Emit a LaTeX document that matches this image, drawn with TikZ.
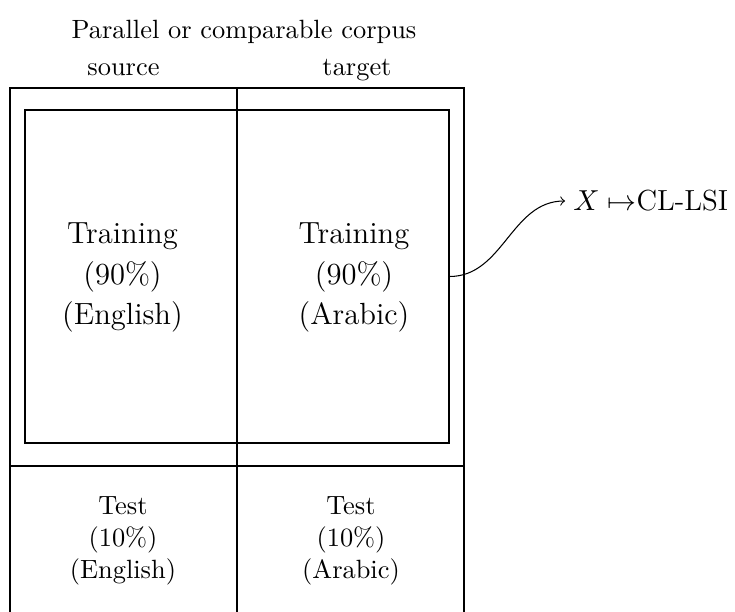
\documentclass[tikz,border=0pt]{standalone}
\usetikzlibrary{fit}
\begin{document}
\begin{tikzpicture}[x=0.3788pt,y=-0.3788pt,
  cell/.style={draw,inner sep=0pt,line width=0.4pt},
  plain/.style={inner sep=0pt,align=center},
  bigtxt/.style={plain,font=\fontsize{11.6}{15.2}\selectfont},
  smalltxt/.style={plain,font=\fontsize{10}{12}\selectfont}]
\useasboundingbox (0,0) rectangle (735,612);
\node[plain] (title) at (244,32) {Parallel or comparable corpus};
\node[plain] (src) at (123.5,70) {source};
\node[plain] (tgt) at (357,70) {target};
\coordinate (a1) at (10,88);
\coordinate (a2) at (237,466);
\coordinate (a3) at (464,88);
\coordinate (a4) at (237,640);
\coordinate (a5) at (10,466);
\coordinate (a6) at (464,466);
\node[cell,fit=(a1)(a2)] (srctop) {};
\node[cell,fit=(a2)(a3)] (tgttop) {};
\node[cell,fit=(a5)(a4)] (srctest) {};
\node[cell,fit=(a4)(a6)] (tgttest) {};
\coordinate (b1) at (25,110);
\coordinate (b2) at (449,443);
\node[cell,fit=(b1)(b2)] (inner) {};
\node[bigtxt] (trsrc) at (122.5,277.5) {Training\\(90\%)\\(English)};
\node[bigtxt] (trtgt) at (354,277.5) {Training\\(90\%)\\(Arabic)};
\node[smalltxt] (tesrc) at (123,541) {Test\\(10\%)\\(English)};
\node[smalltxt] (tetgt) at (351,541) {Test\\(10\%)\\(Arabic)};
\node[anchor=west,inner sep=3pt,font=\fontsize{11}{13}\selectfont] (lsi) at (565,201) {$X\mapsto$CL-LSI};
\draw[->,line width=0.4pt] (inner.east) to[out=0,in=180] (lsi.west);
\end{tikzpicture}
\end{document}
